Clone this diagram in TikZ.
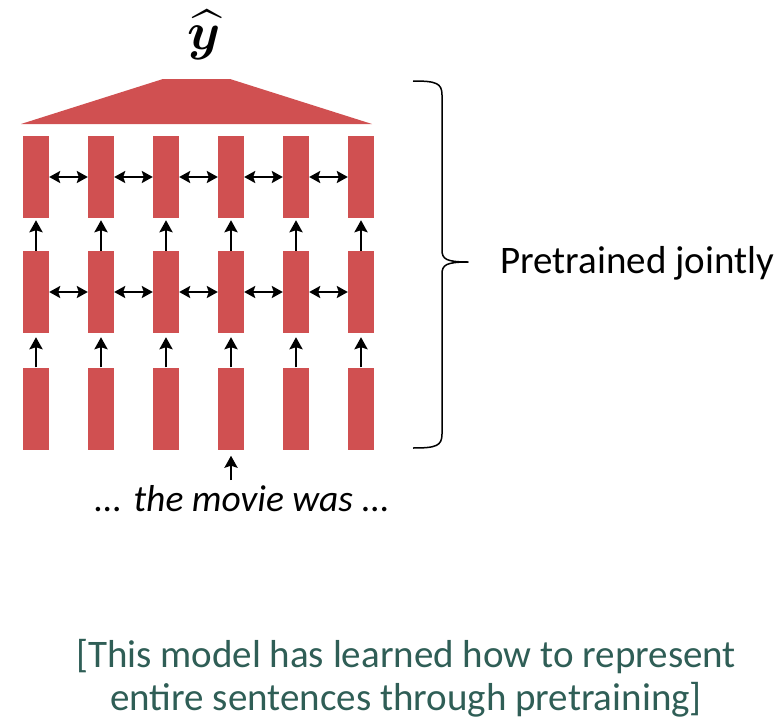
\RequirePackage{fix-cm}
\documentclass[tikz,border=0pt]{standalone}
\usepackage{bm}
\usepackage{graphicx}
\usepackage{fontspec}
\setmainfont{Carlito}
\usetikzlibrary{arrows.meta}
\definecolor{boxred}{RGB}{208,80,81}
\definecolor{noteteal}{RGB}{47,94,86}
\tikzset{
  box/.style={fill=boxred, draw=none, minimum width=26pt, minimum height=82pt, inner sep=0pt},
  harr/.style={{Stealth[length=11pt,width=12pt,inset=2pt]}-{Stealth[length=11pt,width=12pt,inset=2pt]}, line width=2.5pt},
  varr/.style={-{Stealth[length=12pt,width=13pt,inset=2pt]}, line width=2.5pt},
  bigtext/.style={font=\fontsize{39}{45}\selectfont, inner sep=0pt},
}
\begin{document}
\begin{tikzpicture}[x=1pt,y=-1pt]
\useasboundingbox[fill=white] (0,0) rectangle (777,720);
% boxes
\foreach \c/\x in {1/36,2/101,3/166,4/231,5/296,6/361}{
  \node[box] (b1-\c) at (\x,177) {};
  \node[box] (b2-\c) at (\x,292) {};
  \node[box] (b3-\c) at (\x,408.5) {};
}
% pooling trapezoid
\fill[boxred] (21,124) -- (163,79) -- (230,79) -- (372,124) -- cycle;
\node[inner sep=0pt] (yhat) at (204,35) {\scalebox{5.3}{$\widehat{\bm{y}}$}};
% horizontal arrows
\foreach \r in {1,2}{
  \foreach \c/\n in {1/2,2/3,3/4,4/5,5/6}{
    \draw[harr] (b\r-\c.east) -- (b\r-\n.west);
  }
}
% vertical arrows
\foreach \c in {1,...,6}{
  \draw[varr] (b3-\c.north) -- ([yshift=-4pt]b2-\c.south);
  \draw[varr] (b2-\c.north) -- ([yshift=-2pt]b1-\c.south);
}
\coordinate (inp) at (231,480);
\draw[varr] (inp) -- ([yshift=-6pt]b3-4.south);
\node[bigtext, anchor=base, font=\fontsize{37.5}{45}\selectfont\itshape] (words) at (242,511) {... the movie was ...};
% brace
\draw[line width=1.5pt, line join=round] (413,81) .. controls (436,81) and (442,83) .. (442,95)
  -- (442,250) .. controls (442,259) and (446,262) .. (468,262)
  .. controls (446,262) and (442,265) .. (442,274)
  -- (442,434) .. controls (442,446) and (436,448) .. (413,448);
\node[bigtext, anchor=base west] (pj) at (500,273) {Pretrained jointly};
% note
\node[bigtext, anchor=base, text=noteteal] (note1) at (406,667) {[This model has learned how to represent};
\node[bigtext, anchor=base, text=noteteal] (note2) at (406,710) {entire sentences through pretraining]};
\end{tikzpicture}
\end{document}
